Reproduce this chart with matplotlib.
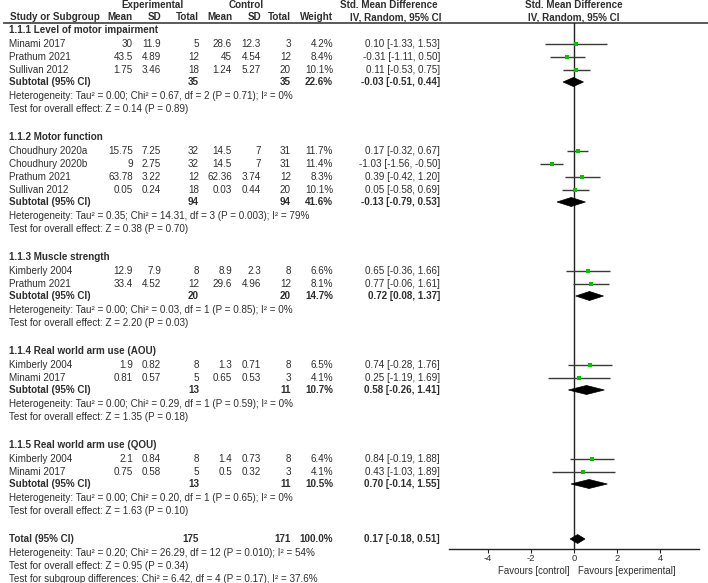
import numpy as np
import matplotlib.pyplot as plt
from matplotlib.patches import Polygon

plt.rcParams['font.family'] = ['Liberation Sans', 'DejaVu Sans']

# study rows (group index tells which subgroup each belongs to)
study_names = ['Minami 2017', 'Prathum 2021', 'Sullivan 2012',
               'Choudhury 2020a', 'Choudhury 2020b', 'Prathum 2021', 'Sullivan 2012',
               'Kimberly 2004', 'Prathum 2021',
               'Kimberly 2004', 'Minami 2017',
               'Kimberly 2004', 'Minami 2017']
study_group = [0, 0, 0, 1, 1, 1, 1, 2, 2, 3, 3, 4, 4]
exp_mean = [30, 43.5, 1.75, 15.75, 9, 63.78, 0.05, 12.9, 33.4, 1.9, 0.81, 2.1, 0.75]
exp_sd = [11.9, 4.89, 3.46, 7.25, 2.75, 3.22, 0.24, 7.9, 4.52, 0.82, 0.57, 0.84, 0.58]
exp_n = [5, 12, 18, 32, 32, 12, 18, 8, 12, 8, 5, 8, 5]
ctl_mean = [28.6, 45, 1.24, 14.5, 14.5, 62.36, 0.03, 8.9, 29.6, 1.3, 0.65, 1.4, 0.5]
ctl_sd = [12.3, 4.54, 5.27, 7, 7, 3.74, 0.44, 2.3, 4.96, 0.71, 0.53, 0.73, 0.32]
ctl_n = [3, 12, 20, 31, 31, 12, 20, 8, 12, 8, 3, 8, 3]
weight = [4.2, 8.4, 10.1, 11.7, 11.4, 8.3, 10.1, 6.6, 8.1, 6.5, 4.1, 6.4, 4.1]
smd = [0.10, -0.31, 0.11, 0.17, -1.03, 0.39, 0.05, 0.65, 0.77, 0.74, 0.25, 0.84, 0.43]
smd_lo = [-1.33, -1.11, -0.53, -0.32, -1.56, -0.42, -0.58, -0.36, -0.06, -0.28, -1.19, -0.19, -1.03]
smd_hi = [1.53, 0.50, 0.75, 0.67, -0.50, 1.20, 0.69, 1.66, 1.61, 1.76, 1.69, 1.88, 1.89]

# subgroups
group_titles = ['1.1.1 Level of motor impairment', '1.1.2 Motor function',
                '1.1.3 Muscle strength', '1.1.4 Real world arm use (AOU)',
                '1.1.5 Real world arm use (QOU)']
sub_exp_n = [35, 94, 20, 13, 13]
sub_ctl_n = [35, 94, 20, 11, 11]
sub_weight = [22.6, 41.6, 14.7, 10.7, 10.5]
sub_smd = [-0.03, -0.13, 0.72, 0.58, 0.70]
sub_lo = [-0.51, -0.79, 0.08, -0.26, -0.14]
sub_hi = [0.44, 0.53, 1.37, 1.41, 1.55]
sub_tau2 = ['0.00', '0.35', '0.00', '0.00', '0.00']
sub_chi2 = ['0.67', '14.31', '0.03', '0.29', '0.20']
sub_df = [2, 3, 1, 1, 1]
sub_p_het = ['0.71', '0.003', '0.85', '0.59', '0.65']
sub_i2 = ['0', '79', '0', '0', '0']
sub_z = ['0.14', '0.38', '2.20', '1.35', '1.63']
sub_p_z = ['0.89', '0.70', '0.03', '0.18', '0.10']

# overall
total_exp_n = 175
total_ctl_n = 171
total_weight = 100.0
total_smd = 0.17
total_lo = -0.18
total_hi = 0.51
total_het = 'Heterogeneity: Tau\u00b2 = 0.20; Chi\u00b2 = 26.29, df = 12 (P = 0.010); I\u00b2 = 54%'
total_test = 'Test for overall effect: Z = 0.95 (P = 0.34)'
subgroup_test = 'Test for subgroup differences: Chi\u00b2 = 6.42, df = 4 (P = 0.17), I\u00b2 = 37.6%'

axis_ticks = [-4, -2, 0, 2, 4]

W, H = 708, 583
TXT = '#2e2e2e'
FS = 7.1
GREEN = '#00c400'

fig = plt.figure(figsize=(W / 100, H / 100), dpi=100)
ax = fig.add_axes([0, 0, 1, 1])
ax.set_xlim(0, W)
ax.set_ylim(H, 0)
ax.axis('off')

# column anchors (pixels)
x_name = 9
x_emean, x_esd, x_en = 133, 161, 199
x_cmean, x_csd, x_cn = 232, 261, 291
x_w = 333
x_eff = 440


def put(x, y, s, ha='right', bold=False, fs=FS):
    ax.text(x, y, s, ha=ha, va='center', fontsize=fs, color=TXT,
            fontweight='bold' if bold else 'normal')


def eff_str(v, lo, hi):
    return '%.2f [%.2f, %.2f]' % (v, lo, hi)


# header
put(152, 5, 'Experimental', ha='center', bold=True)
put(246, 5, 'Control', ha='center', bold=True)
put(389, 5, 'Std. Mean Difference', ha='center', bold=True)
put(574, 5, 'Std. Mean Difference', ha='center', bold=True)
put(10, 17, 'Study or Subgroup', ha='left', bold=True)
for xx, lab in zip([x_emean, x_esd, x_en, x_cmean, x_csd, x_cn, x_w],
                   ['Mean', 'SD', 'Total', 'Mean', 'SD', 'Total', 'Weight']):
    put(xx, 17, lab, bold=True)
put(396, 17, 'IV, Random, 95% CI', ha='center', bold=True)
put(574, 17, 'IV, Random, 95% CI', ha='center', bold=True)
ax.axhline(23, xmin=4 / W, xmax=1, color='#5a5a5a', lw=1.4)

# forest axes, y in the same pixel units as the text axes
fx = fig.add_axes([449 / W, (H - 549) / H, 250 / W, (549 - 23) / H])
fx.set_xlim(-5.81, 5.81)
fx.set_ylim(549, 23)
fx.patch.set_alpha(0)
for s in ['left', 'right', 'top']:
    fx.spines[s].set_visible(False)
fx.spines['bottom'].set_color('#222222')
fx.spines['bottom'].set_linewidth(1)
fx.set_yticks([])
fx.set_xticks(axis_ticks)
fx.set_xticklabels([str(t) for t in axis_ticks])
fx.tick_params(axis='x', length=3, width=0.8, color='#222222', pad=0.5,
               labelsize=6.8, labelcolor=TXT)
fx.axvline(0, color='#222222', lw=1, zorder=1)


def diamond(v, lo, hi, y, h=9):
    fx.add_patch(Polygon([(lo, y), (v, y - h / 2), (hi, y), (v, y + h / 2)],
                         closed=True, fc='black', ec='black', lw=0.5, zorder=3))


y = 30
for g in range(len(group_titles)):
    put(x_name, y, group_titles[g], ha='left', bold=True)
    y += 14
    idx = [i for i in range(len(study_names)) if study_group[i] == g]
    for i in idx:
        put(x_name, y, study_names[i], ha='left')
        put(x_emean, y, '%g' % exp_mean[i])
        put(x_esd, y, '%g' % exp_sd[i])
        put(x_en, y, str(exp_n[i]))
        put(x_cmean, y, '%g' % ctl_mean[i])
        put(x_csd, y, '%g' % ctl_sd[i])
        put(x_cn, y, str(ctl_n[i]))
        put(x_w, y, '%.1f%%' % weight[i])
        put(x_eff, y, eff_str(smd[i], smd_lo[i], smd_hi[i]))
        fx.hlines(y, smd_lo[i], smd_hi[i], color='#3a3a3a', lw=1, zorder=2)
        side = 2.4 + 0.15 * weight[i]
        fx.plot(smd[i], y, marker='s', ms=side * 0.72, color=GREEN,
                mec=GREEN, mew=0, zorder=4)
        y += 13
    y -= 1
    put(x_name, y, 'Subtotal (95% CI)', ha='left', bold=True)
    put(x_en, y, str(sub_exp_n[g]), bold=True)
    put(x_cn, y, str(sub_ctl_n[g]), bold=True)
    put(x_w, y, '%.1f%%' % sub_weight[g], bold=True)
    put(x_eff, y, eff_str(sub_smd[g], sub_lo[g], sub_hi[g]), bold=True)
    diamond(sub_smd[g], sub_lo[g], sub_hi[g], y)
    y += 14
    put(x_name, y, 'Heterogeneity: Tau\u00b2 = %s; Chi\u00b2 = %s, df = %d (P = %s); I\u00b2 = %s%%'
        % (sub_tau2[g], sub_chi2[g], sub_df[g], sub_p_het[g], sub_i2[g]), ha='left')
    y += 13
    put(x_name, y, 'Test for overall effect: Z = %s (P = %s)' % (sub_z[g], sub_p_z[g]), ha='left')
    y += 28

put(x_name, y, 'Total (95% CI)', ha='left', bold=True)
put(x_en, y, str(total_exp_n), bold=True)
put(x_cn, y, str(total_ctl_n), bold=True)
put(x_w, y, '%.1f%%' % total_weight, bold=True)
put(x_eff, y, eff_str(total_smd, total_lo, total_hi), bold=True)
diamond(total_smd, total_lo, total_hi, y)
y += 14
put(x_name, y, total_het, ha='left')
y += 13
put(x_name, y, total_test, ha='left')
y += 13
put(x_name, y, subgroup_test, ha='left')

put(570, 571, 'Favours [control]', ha='right', fs=6.9)
put(578, 571, 'Favours [experimental]', ha='left', fs=6.9)

fig.savefig('out.png', dpi=100)
